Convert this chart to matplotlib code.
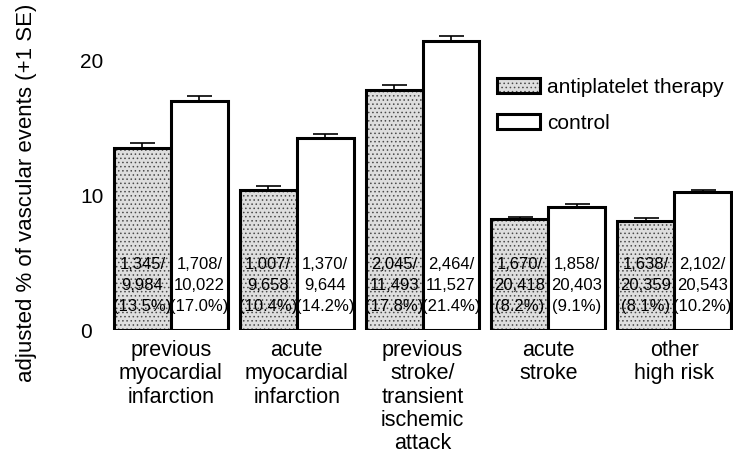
"""Vascular events by high-risk category: antiplatelet therapy vs control."""

import matplotlib

matplotlib.use("Agg")

import matplotlib.pyplot as plt
import numpy as np
from matplotlib.legend_handler import HandlerTuple


categories = [
    "previous\nmyocardial\ninfarction",
    "acute\nmyocardial\ninfarction",
    "previous\nstroke/\ntransient\nischemic\nattack",
    "acute\nstroke",
    "other\nhigh risk",
]
antiplatelet_pct = [13.5, 10.4, 17.8, 8.2, 8.1]
control_pct = [17.0, 14.2, 21.4, 9.1, 10.2]
antiplatelet_se = [0.35, 0.3, 0.35, 0.2, 0.2]
control_se = [0.35, 0.35, 0.4, 0.2, 0.2]
antiplatelet_events = ["1,345/", "1,007/", "2,045/", "1,670/", "1,638/"]
antiplatelet_totals = ["9,984", "9,658", "11,493", "20,418", "20,359"]
control_events = ["1,708/", "1,370/", "2,464/", "1,858/", "2,102/"]
control_totals = ["10,022", "9,644", "11,527", "20,403", "20,543"]
y_ticks = [0, 10, 20]

W, H = 733, 461
FONT = ["Liberation Sans", "DejaVu Sans"]
STIPPLE_FACE = "#dedede"
STIPPLE_DOTS = "#4a4a4a"


def main() -> None:
    plt.rcParams["font.family"] = FONT
    plt.rcParams["hatch.linewidth"] = 0.6

    fig = plt.figure(figsize=(W / 100, H / 100), dpi=100)
    ax = fig.add_axes([100 / W, (H - 330) / H, 633 / W, 303.75 / H])

    x = np.arange(len(categories))
    width = 0.452
    off = 0.226

    # stipple fill for the antiplatelet bars, then outlines on top
    stipple = ax.bar(x - off, antiplatelet_pct, width, color=STIPPLE_FACE,
                     edgecolor=STIPPLE_DOTS, hatch="....", linewidth=0, zorder=1)
    outline = ax.bar(x - off, antiplatelet_pct, width, facecolor="none",
                     edgecolor="black", linewidth=2.2, zorder=3)
    ctrl = ax.bar(x + off, control_pct, width, facecolor="white",
                  edgecolor="black", linewidth=2.2, zorder=3)

    zeros = np.zeros(len(x))
    ax.errorbar(x - off, antiplatelet_pct, yerr=[zeros, antiplatelet_se], fmt="none",
                ecolor="black", elinewidth=1.2, capsize=9, capthick=1.2, zorder=2)
    ax.errorbar(x + off, control_pct, yerr=[zeros, control_se], fmt="none",
                ecolor="black", elinewidth=1.2, capsize=9, capthick=1.2, zorder=2)

    for i in x:
        pa = antiplatelet_pct[i]
        pc = control_pct[i]
        ax.text(i - off, 3.26,
                f"{antiplatelet_events[i]}\n{antiplatelet_totals[i]}\n({pa:.1f}%)",
                ha="center", va="center", fontsize=12, linespacing=1.5, zorder=4)
        ax.text(i + off, 3.26,
                f"{control_events[i]}\n{control_totals[i]}\n({pc:.1f}%)",
                ha="center", va="center", fontsize=12, linespacing=1.5, zorder=4)

    ax.set_xlim(-0.5635, 4.468)
    ax.set_ylim(0, 22.5)
    ax.set_xticks(x)
    ax.set_xticklabels(categories, fontsize=15.5, linespacing=1.15)
    ax.set_yticks(y_ticks)
    ax.set_yticklabels([str(t) for t in y_ticks], fontsize=15, ha="left")
    ax.tick_params(axis="x", length=0, pad=7)
    ax.tick_params(axis="y", length=0, pad=14.4)
    for spine in ax.spines.values():
        spine.set_visible(False)

    ax.set_ylabel("adjusted % of vascular events (+1 SE)", fontsize=16)
    ax.yaxis.set_label_coords(-0.100, 0.451)

    ax.legend(
        handles=[(stipple[0], outline[0]), ctrl[0]],
        labels=["antiplatelet therapy", "control"],
        handler_map={tuple: HandlerTuple(ndivide=1)},
        loc="upper left",
        bbox_to_anchor=(497 / W, 1 - 78 / H),
        bbox_transform=fig.transFigure,
        frameon=False,
        fontsize=15,
        handlelength=2.05,
        handleheight=0.72,
        handletextpad=0.35,
        labelspacing=0.8,
        borderpad=0,
        borderaxespad=0,
    )

    fig.savefig("out.png", dpi=100)


if __name__ == "__main__":
    main()
